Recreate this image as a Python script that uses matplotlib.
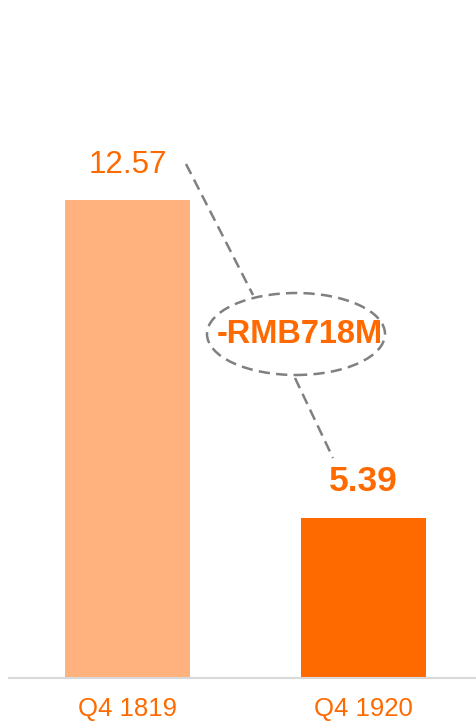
import matplotlib
matplotlib.use("Agg")
import matplotlib.pyplot as plt
from matplotlib.patches import Ellipse

categories = ["Q4 1819", "Q4 1920"]
values = [12.57, 5.39]
value_labels = ["12.57", "5.39"]
change_label = "-RMB718M"
bar_colors = ["#FFB27D", "#FF6A00"]
orange = "#FF6A00"

W, H = 476, 723
fig = plt.figure(figsize=(W / 100, H / 100), dpi=100)
ax = fig.add_axes([9 / W, (H - 678) / H, 1 - 9 / W, 678 / H])

x = list(range(len(categories)))
ax.bar(x, values, width=125 / 236, color=bar_colors, zorder=2)
ax.set_xlim(-118.5 / 236, (476 - 127.5) / 236)
ymin = 1.78
ppu = 44.29
ax.set_ylim(ymin, ymin + 678 / ppu)

for s in ["top", "right", "left"]:
    ax.spines[s].set_visible(False)
ax.spines["bottom"].set_color("#D9D9D9")
ax.spines["bottom"].set_linewidth(1.5)
ax.set_yticks([])
ax.set_xticks(x)
ax.set_xticklabels(categories, fontsize=18.5, color=orange, family="Liberation Sans")
ax.tick_params(axis="x", length=0, pad=14)

# value labels
ax.text(x[0], values[0] + 35 / ppu, value_labels[0], ha="center", va="center",
        fontsize=22.5, color=orange, family="Liberation Sans")
ax.text(x[1], values[1] + 37 / ppu, value_labels[1], ha="center", va="center",
        fontsize=25.5, color=orange, family="Liberation Sans", fontweight="bold")

def px(xp, yp):
    return ((xp - 127.5) / 236, ymin + (678 - yp) / ppu)

dash = dict(color="#808080", lw=1.8, ls=(0, (4.5, 2.5)))
x1, y1 = px(186, 164)
x2, y2 = px(253, 295)
ax.plot([x1, x2], [y1, y2], **dash, zorder=3)
x3, y3 = px(295, 378)
x4, y4 = px(333, 458)
ax.plot([x3, x4], [y3, y4], **dash, zorder=3)

cx, cy = px(296, 334)
ell = Ellipse((cx, cy), 178 / 236, 82 / ppu, fill=False, edgecolor="#808080",
              lw=1.8, ls=(0, (4.5, 2.5)), zorder=3)
ax.add_patch(ell)
tx, ty = px(300, 334)
ax.text(tx, ty, change_label, ha="center", va="center", fontsize=23.5,
        color=orange, family="Liberation Sans", fontweight="bold", zorder=4)

fig.savefig("out.png", dpi=100)
